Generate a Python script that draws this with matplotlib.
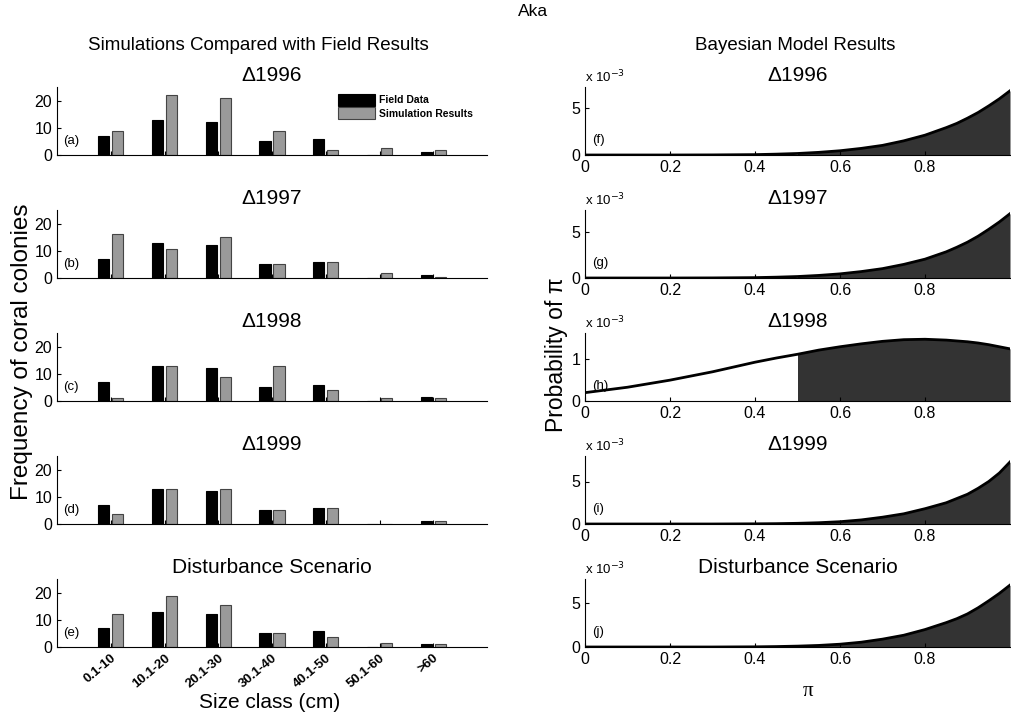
import numpy as np
import matplotlib
matplotlib.use("Agg")
import matplotlib.pyplot as plt

plt.rcParams["font.family"] = ["Liberation Sans", "DejaVu Sans"]

# Left column: size-class histograms
size_classes = ["0.1-10", "10.1-20", "20.1-30", "30.1-40", "40.1-50", "50.1-60", ">60"]
field_data = [7, 13, 12, 5, 6, 0, 1]
field_data_c = [7, 13, 12, 5, 6, 0, 1.3]
sim_1996 = [9, 22, 21, 9, 2, 2.7, 2]
sim_1997 = [16, 10.7, 15, 5, 6, 2, 0.3]
sim_1998 = [1, 12.7, 8.7, 12.7, 4.2, 1, 1.2]
sim_1999 = [3.5, 12.7, 13, 5, 6, 0, 1]
sim_disturb = [12, 18.7, 15.3, 5, 3.7, 1.5, 1.1]

left_titles = ["\u03941996", "\u03941997", "\u03941998", "\u03941999", "Disturbance Scenario"]
left_letters = ["(a)", "(b)", "(c)", "(d)", "(e)"]
left_field = [field_data, field_data, field_data_c, field_data, field_data]
left_sim = [sim_1996, sim_1997, sim_1998, sim_1999, sim_disturb]

# Right column: posterior probability of pi (values x 1e-3)
pi_vals = [0, 0.1, 0.2, 0.3, 0.4, 0.45, 0.5, 0.55, 0.6, 0.65, 0.7, 0.75,
           0.8, 0.85, 0.875, 0.9, 0.925, 0.95, 0.975, 1.0]
prob_1996 = [0, 0, 0, 0.01, 0.04, 0.09, 0.16, 0.28, 0.45, 0.7, 1.02, 1.5,
             2.1, 2.9, 3.35, 3.9, 4.5, 5.2, 5.95, 6.8]
prob_1997 = [0, 0, 0, 0.01, 0.04, 0.09, 0.16, 0.28, 0.45, 0.7, 1.02, 1.48,
             2.05, 2.85, 3.35, 3.9, 4.55, 5.3, 6.1, 7.0]
prob_1998 = [0.2, 0.33, 0.5, 0.7, 0.93, 1.03, 1.12, 1.22, 1.3, 1.37, 1.43, 1.47,
             1.48, 1.46, 1.44, 1.42, 1.39, 1.35, 1.3, 1.25]
prob_1999 = [0, 0, 0, 0, 0.02, 0.04, 0.08, 0.15, 0.27, 0.48, 0.8, 1.2,
             1.8, 2.5, 3.0, 3.5, 4.2, 5.0, 6.0, 7.3]
prob_disturb = [0, 0, 0, 0, 0.02, 0.05, 0.1, 0.18, 0.32, 0.55, 0.9, 1.35,
                2.0, 2.8, 3.25, 3.8, 4.5, 5.3, 6.15, 7.1]

right_titles = ["\u03941996", "\u03941997", "\u03941998", "\u03941999", "Disturbance Scenario"]
right_letters = ["(f)", "(g)", "(h)", "(i)", "(j)"]
right_probs = [prob_1996, prob_1997, prob_1998, prob_1999, prob_disturb]
right_ymax = [7.2, 7.4, 1.63, 8.0, 7.8]
right_yticks = [[0, 5], [0, 5], [0, 1], [0, 5], [0, 5]]

W, H = 1011, 718
fig = plt.figure(figsize=(W / 100, H / 100), dpi=100)


def px_axes(x0, top, w, h):
    return fig.add_axes([x0 / W, 1 - (top + h) / H, w / W, h / H])


row_tops = [87, 210, 333, 456, 579]
row_h = 68
x = np.arange(1, len(size_classes) + 1)

for i in range(5):
    ax = px_axes(57, row_tops[i], 430, row_h)
    ax.bar(x - 0.13, left_field[i], width=0.21, color="black", edgecolor="black",
           linewidth=0.8, label="Field Data")
    ax.bar(x + 0.13, left_sim[i], width=0.21, color="#9a9a9a", edgecolor="#444444",
           linewidth=0.8, label="Simulation Results")
    ax.set_xlim(0, 8)
    ax.set_ylim(0, 25)
    ax.set_yticks([0, 10, 20])
    ax.set_xticks(x)
    ax.spines["top"].set_visible(False)
    ax.spines["right"].set_visible(False)
    ax.tick_params(direction="in", length=3, labelsize=11.5)
    if i < 4:
        ax.set_xticklabels([])
    else:
        ax.set_xticklabels(size_classes, rotation=40, ha="right",
                           rotation_mode="anchor", fontsize=9.5, fontweight="bold")
    ax.set_title(left_titles[i], fontsize=15, pad=4)
    ax.text(0.015, 0.2, left_letters[i], transform=ax.transAxes,
            fontsize=9.5, va="center", ha="left")
    if i == 0:
        ax.legend(loc="upper left", bbox_to_anchor=(0.653, 0.9), frameon=False,
                  handlelength=3.6, handleheight=1.4,
                  handletextpad=0.4, labelspacing=0.15, borderpad=0,
                  borderaxespad=0, prop={"weight": "bold", "size": 7.5})

for i in range(5):
    ax = px_axes(585, row_tops[i], 425, row_h)
    y = np.array(right_probs[i]) * 1e-3
    p = np.array(pi_vals)
    mask = p >= 0.5
    ax.fill_between(p[mask], 0, y[mask], color="#333333", linewidth=0)
    ax.plot(p, y, color="black", linewidth=2)
    ax.set_xlim(0, 1)
    ax.set_ylim(0, right_ymax[i] * 1e-3)
    ax.set_xticks([0, 0.2, 0.4, 0.6, 0.8])
    ax.set_xticklabels(["0", "0.2", "0.4", "0.6", "0.8"])
    ax.set_yticks([v * 1e-3 for v in right_yticks[i]])
    ax.set_yticklabels([str(v) for v in right_yticks[i]])
    ax.spines["top"].set_visible(False)
    ax.spines["right"].set_visible(False)
    ax.tick_params(direction="in", length=3, labelsize=11.5)
    ax.set_title(right_titles[i], fontsize=15, pad=4)
    ax.text(0.0, 1.03, "x 10$^{-3}$", transform=ax.transAxes,
            fontsize=9.5, va="bottom", ha="left")
    ax.text(0.016, 0.22, right_letters[i], transform=ax.transAxes,
            fontsize=9.5, va="center", ha="left")

fig.text(533 / W, 1 - 12 / H, "Aka", ha="center", va="center", fontsize=12.5)
fig.text(258 / W, 1 - 45 / H, "Simulations Compared with Field Results",
         ha="center", va="center", fontsize=13.5)
fig.text(795 / W, 1 - 45 / H, "Bayesian Model Results",
         ha="center", va="center", fontsize=13.5)
fig.text(22 / W, 1 - 352 / H, "Frequency of coral colonies", rotation=90,
         ha="center", va="center", fontsize=17.5)
fig.text(556 / W, 1 - 355 / H, "Probability of \u03c0", rotation=90,
         ha="center", va="center", fontsize=16.5)
fig.text(270 / W, 1 - 703 / H, "Size class (cm)", ha="center", va="center",
         fontsize=15)
fig.text(808 / W, 1 - 692 / H, "\u03c0", ha="center", va="center", fontsize=15,
         family="Liberation Serif")

fig.savefig("out.png", dpi=100)
